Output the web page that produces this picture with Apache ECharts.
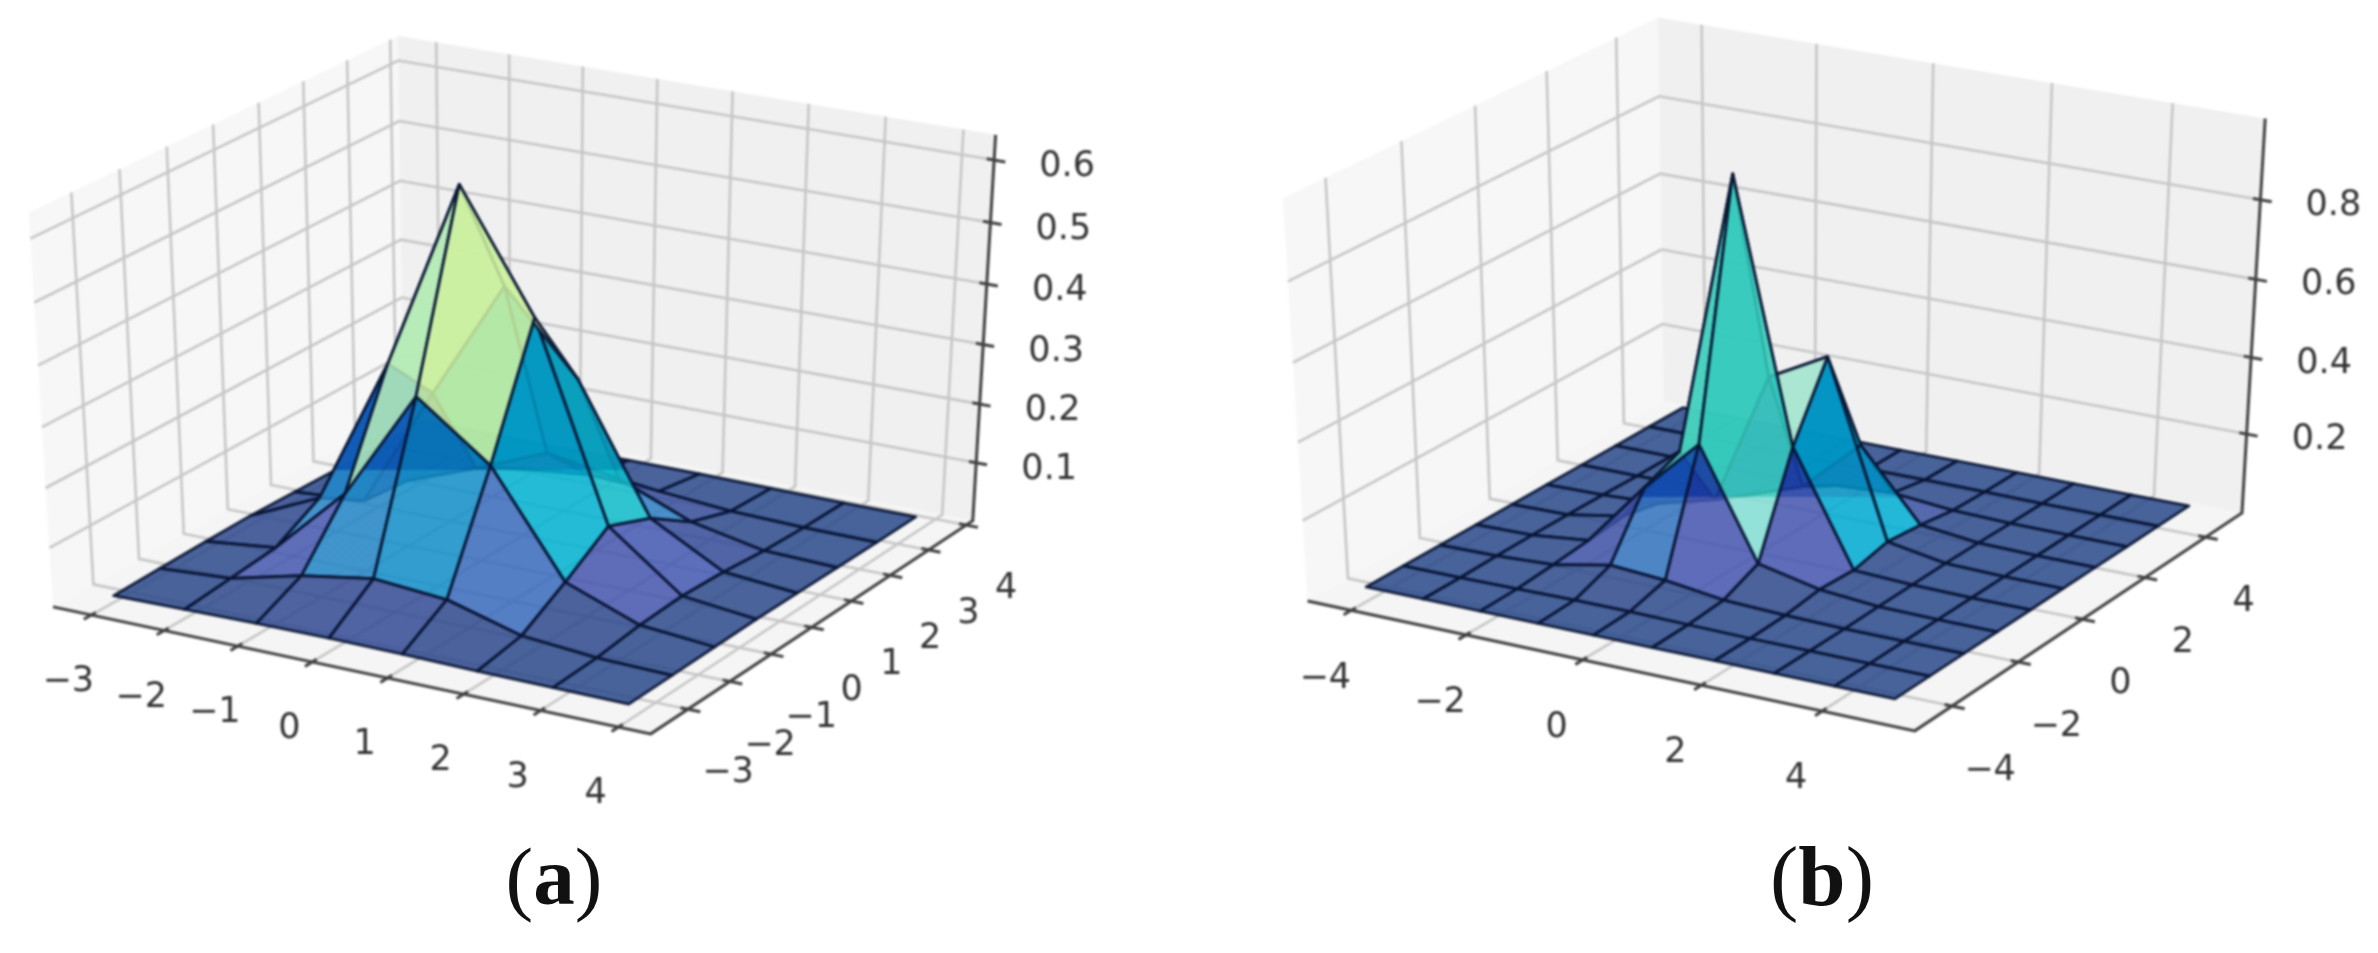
<!DOCTYPE html>
<html><head><meta charset="utf-8">
<style>html,body{margin:0;padding:0;background:#fff}
#c,#t{position:absolute;left:0;top:0;width:2378px;height:953px}
#c{filter:blur(1px)}</style>
<script src="https://cdn.jsdelivr.net/npm/echarts@6/dist/echarts.min.js"></script>
</head><body><div id="c"></div><div id="t"></div>
<script>
// ---- values ----
const xTicksA = [-3,-2,-1,0,1,2,3,4];
const yTicksA = [-3,-2,-1,0,1,2,3,4];
const zTicksA = [0.1,0.2,0.3,0.4,0.5,0.6];
const xMeshA = [-3.12,-2.14,-1.16,-0.18,0.8,1.79,2.78,3.76];
const yMeshA = [-3.2,-2.18,-1.16,-0.14,0.88,1.9,2.92,3.95];
const surfaceA = [ // one row per y, one column per x
 [0.000,0.002,0.004,0.005,0.004,0.002,0.001,0.000],
 [0.002,0.010,0.040,0.060,0.050,0.015,0.004,0.001],
 [0.004,0.018,0.135,0.320,0.230,0.060,0.013,0.002],
 [0.005,0.060,0.310,0.620,0.430,0.110,0.017,0.003],
 [0.003,0.012,0.220,0.420,0.290,0.080,0.013,0.002],
 [0.001,0.004,0.050,0.100,0.080,0.030,0.005,0.001],
 [0.000,0.001,0.006,0.020,0.015,0.005,0.001,0.000],
 [0.000,0.000,0.001,0.002,0.002,0.001,0.000,0.000]
];
const xTicksB = [-4,-2,0,2,4];
const yTicksB = [-4,-2,0,2,4];
const zTicksB = [0.2,0.4,0.6,0.8];
const xMeshB = [-4.25,-3.25,-2.25,-1.25,-0.3,0.7,1.75,2.75,3.75,4.74];
const yMeshB = [-4.3,-3.27,-2.24,-1.22,-0.19,0.84,1.87,2.89,3.92,4.95];
const surfaceB = [
 [0,0,0,0,0,0,0,0,0,0],
 [0,0,0.002,0.004,0.004,0.002,0,0,0,0],
 [0,0.002,0.010,0.040,0.030,0.010,0.003,0,0,0],
 [0,0.003,0.020,0.190,0.330,0.050,0.015,0.002,0,0],
 [0,0.003,0.030,0.230,0.955,0.300,0.010,0.003,0,0],
 [0,0.002,0.010,0.050,0.400,0.480,0.030,0.004,0,0],
 [0,0,0.003,0.010,0.060,0.200,0.020,0.003,0,0],
 [0,0,0,0.002,0.010,0.020,0.005,0.001,0,0],
 [0,0,0,0,0.001,0.002,0.001,0,0,0],
 [0,0,0,0,0,0,0,0,0,0]
];
const captionA = 'a', captionB = 'b';

// ---- layout and style ----
const stopsA = [[0,'#2b4a8a'],[0.04,'#30498e'],[0.08,'#4656af'],[0.14,'#3b6abb'],[0.2,'#2c80c4'],[0.27,'#1090c8'],[0.34,'#00b5d2'],[0.43,'#36ccbb'],[0.52,'#a8e8c4'],[0.65,'#cdf09e'],[1,'#ffffc0']];
const stopsB = [[0,'#2b4a8a'],[0.04,'#30498e'],[0.08,'#4656af'],[0.11,'#4656af'],[0.15,'#3b6abb'],[0.185,'#00aed4'],[0.25,'#00a8cf'],[0.34,'#00b5d2'],[0.43,'#36ccbb'],[0.55,'#c0eed0'],[1,'#ffffc0']];
const panelA = {stops:stopsA, xLim:[-3.53,4.41], yLim:[-3.87,4.18], zLim:[0,0.64], sx:690, ox:520, sy:450, oy:373, horizon:470,
  xTicks:xTicksA, yTicks:yTicksA, zTicks:zTicksA, xMesh:xMeshA, yMesh:yMeshA, z:surfaceA,
  xLab:[-23,67], yLab:[40,64], zLab:[73,7], zFix:1, cap:[554,883,captionA,83]};
const panelB = {stops:stopsB, xLim:[-4.77,5.51], yLim:[-5.1,5.23], zLim:[-0.01,1.0], sx:701, ox:1782, sy:460, oy:362, horizon:497,
  xTicks:xTicksB, yTicks:yTicksB, zTicks:zTicksB, xMesh:xMeshB, yMesh:yMeshB, z:surfaceB,
  xLab:[-26,68], yLab:[38,65], zLab:[73,6], zFix:1, cap:[1822,883,captionB,85]};
const fontFamily = '"DejaVu Sans"';
const faceAlpha = 0.86;

// ---- matplotlib style perspective of the unit box (elev 30, azim -60, dist 10) ----
const U=[0.866,0.5,0], V=[-0.25,0.433,0.866], N=[0.433,-0.75,0.5], DIST=10;
function frac(p,x,y,z){return [(x-p.xLim[0])/(p.xLim[1]-p.xLim[0])-0.5,(y-p.yLim[0])/(p.yLim[1]-p.yLim[0])-0.5,(z-p.zLim[0])/(p.zLim[1]-p.zLim[0])-0.5];}
const dot=(a,b)=>a[0]*b[0]+a[1]*b[1]+a[2]*b[2];
function project(p,x,y,z){const f=frac(p,x,y,z),s=DIST/(DIST-dot(f,N));return [p.ox+p.sx*dot(f,U)*s,p.oy-p.sy*dot(f,V)*s];}
function depth(p,x,y,z){return dot(frac(p,x,y,z),N);}
function hex(c){return [parseInt(c.slice(1,3),16),parseInt(c.slice(3,5),16),parseInt(c.slice(5,7),16)];}
function rampRgb(stops,t){t=Math.max(0,Math.min(1,t));for(let k=1;k<stops.length;k++){if(t<=stops[k][0]){const a=stops[k-1],b=stops[k],u=(t-a[0])/(b[0]-a[0]),A=hex(a[1]),B=hex(b[1]);return A.map((v,n)=>v+(B[n]-v)*u);}}return hex(stops[stops.length-1][1]);}
const css=c=>'rgba('+c.map(v=>Math.round(v)).join(',')+','+faceAlpha+')';
// A face standing in front of the floor's far edge reads darker above that edge and lighter below it.
function faceFill(p,norm,pts){
  const rgb=rampRgb(p.stops,norm),ys=pts.map(q=>q[1]);
  const spans=Math.min(...ys)<p.horizon-8&&Math.max(...ys)>p.horizon+8&&norm>0.07&&norm<0.5;
  if(!spans)return css(rgb);
  let up,low;
  if(norm>0.38){up=rgb;low=rgb.map(v=>v+(255-v)*0.38);}
  else{low=rgb;up=[rgb[0]*0.35,rgb[1]*(rgb[0]<25?0.84:0.68),rgb[2]*0.92];}
  const o=p.horizon/953;
  return {type:'linear',x:0,y:0,x2:0,y2:953,global:true,colorStops:[{offset:0,color:css(up)},{offset:o,color:css(up)},{offset:o,color:css(low)},{offset:1,color:css(low)}]};
}
function frameSeries(p){
  const [x0,x1]=p.xLim,[y0,y1]=p.yLim,[z0,z1]=p.zLim,prims=[];
  const dx=x1-x0,dy=y1-y0;
  prims.push({k:'poly',pts:[[x0,y0,z0],[x0,y1,z0],[x0,y1,z1],[x0,y0,z1]],fill:'#f7f7f7'});
  prims.push({k:'poly',pts:[[x0,y1,z0],[x1,y1,z0],[x1,y1,z1],[x0,y1,z1]],fill:'#f0f0f0'});
  prims.push({k:'poly',pts:[[x0,y0,z0],[x1,y0,z0],[x1,y1,z0],[x0,y1,z0]],fill:'#f5f5f5'});
  const g='#c6c6c6';
  p.xTicks.forEach(t=>{prims.push({k:'path',pts:[[t,y0,z0],[t,y1,z0],[t,y1,z1]],c:g,w:2.6});});
  p.yTicks.forEach(t=>{prims.push({k:'path',pts:[[x1,t,z0],[x0,t,z0],[x0,t,z1]],c:g,w:2.6});});
  p.zTicks.forEach(t=>{prims.push({k:'path',pts:[[x0,y0,t],[x0,y1,t],[x1,y1,t]],c:g,w:2.6});});
  const a='#404040';
  prims.push({k:'path',pts:[[x0,y0,z0],[x1,y0,z0],[x1,y1,z0],[x1,y1,z1]],c:a,w:3});
  p.xTicks.forEach(t=>{prims.push({k:'path',pts:[[t,y0+0.012*dy,z0],[t,y0-0.02*dy,z0]],c:a,w:3});});
  p.yTicks.forEach(t=>{prims.push({k:'path',pts:[[x1-0.012*dx,t,z0],[x1+0.02*dx,t,z0]],c:a,w:3});});
  p.zTicks.forEach(t=>{prims.push({k:'path',pts:[[x1-0.012*dx,y1,t],[x1+0.018*dx,y1,t]],c:a,w:3});});
  return {type:'custom',coordinateSystem:'cartesian2d',silent:true,z:1,clip:false,
    data:prims.map((_,n)=>[n,n]),
    renderItem(params,api){
      const q=prims[api.value(0)],pts=q.pts.map(r=>api.coord(project(p,r[0],r[1],r[2])));
      if(q.k==='poly')return {type:'polygon',shape:{points:pts},style:{fill:q.fill,stroke:null}};
      return {type:'polyline',shape:{points:pts},style:{fill:null,stroke:q.c,lineWidth:q.w}};
    }};
}
function surfaceSeries(p){
  const list=[];
  for(let j=0;j<p.yMesh.length-1;j++)for(let i=0;i<p.xMesh.length-1;i++){
    const c=[[i,j],[i+1,j],[i+1,j+1],[i,j+1]];
    const d=c.reduce((s,[a,b])=>s+depth(p,p.xMesh[a],p.yMesh[b],p.z[b][a]),0)/4;
    list.push([i,j,d]);
  }
  list.sort((a,b)=>a[2]-b[2]);
  const zMax=Math.max(...p.z.map(r=>Math.max(...r)));
  return {type:'custom',coordinateSystem:'cartesian2d',silent:true,z:2,clip:false,
    data:list.map(r=>[r[0],r[1]]),
    renderItem(params,api){
      const i=api.value(0),j=api.value(1),c=[[i,j],[i+1,j],[i+1,j+1],[i,j+1]];
      const pts=c.map(([a,b])=>api.coord(project(p,p.xMesh[a],p.yMesh[b],p.z[b][a])));
      const mean=c.reduce((s,[a,b])=>s+p.z[b][a],0)/4;
      return {type:'polygon',shape:{points:pts},style:{fill:faceFill(p,mean/zMax,pts),stroke:'rgba(8,20,50,0.92)',lineWidth:2.8,lineJoin:'round'}};
    }};
}
function labelSeries(p){
  const [x0,x1]=p.xLim,[y0,y1]=p.yLim,items=[];
  const fmt=t=>String(t).replace('-','\u2212');
  p.xTicks.forEach(t=>{const q=project(p,t,y0,p.zLim[0]);items.push([q[0]+p.xLab[0],q[1]+p.xLab[1],fmt(t)]);});
  p.yTicks.forEach(t=>{const q=project(p,x1,t,p.zLim[0]);items.push([q[0]+p.yLab[0],q[1]+p.yLab[1],fmt(t)]);});
  p.zTicks.forEach(t=>{const q=project(p,x1,y1,t);items.push([q[0]+p.zLab[0],q[1]+p.zLab[1],t.toFixed(p.zFix)]);});
  return {type:'custom',coordinateSystem:'cartesian2d',silent:true,z:3,clip:false,
    data:items.map(r=>[r[0],r[1]]),
    renderItem(params,api){
      const c=api.coord([api.value(0),api.value(1)]);
      return {type:'text',x:c[0],y:c[1],style:{text:items[params.dataIndex][2],font:'35px '+fontFamily,fill:'#333',align:'center',verticalAlign:'middle'}};
    }};
}
function captionSeries(p){
  const [cx,cy,letter,size]=p.cap;
  return {type:'custom',coordinateSystem:'cartesian2d',silent:true,z:3,clip:false,
    data:[[cx,cy]],
    renderItem(params,api){
      const c=api.coord([api.value(0),api.value(1)]);
      return {type:'text',x:c[0],y:c[1],style:{text:'{p|(}{b|'+letter+'}{p|)}',align:'center',verticalAlign:'middle',
        rich:{p:{font:size+'px "Liberation Serif"',fill:'#111'},b:{font:'bold '+size+'px "Liberation Serif"',fill:'#111'}}}};
    }};
}
const base={animation:false,grid:{left:0,right:0,top:0,bottom:0},
  xAxis:{type:'value',min:0,max:2378,show:false},
  yAxis:{type:'value',min:0,max:953,inverse:true,show:false}};
echarts.init(document.getElementById('c')).setOption(Object.assign({backgroundColor:'#fff',
  series:[panelA,panelB].flatMap(p=>[frameSeries(p),surfaceSeries(p),labelSeries(p)])},base));
echarts.init(document.getElementById('t')).setOption(Object.assign({
  series:[panelA,panelB].map(captionSeries)},base));
</script></body></html>
